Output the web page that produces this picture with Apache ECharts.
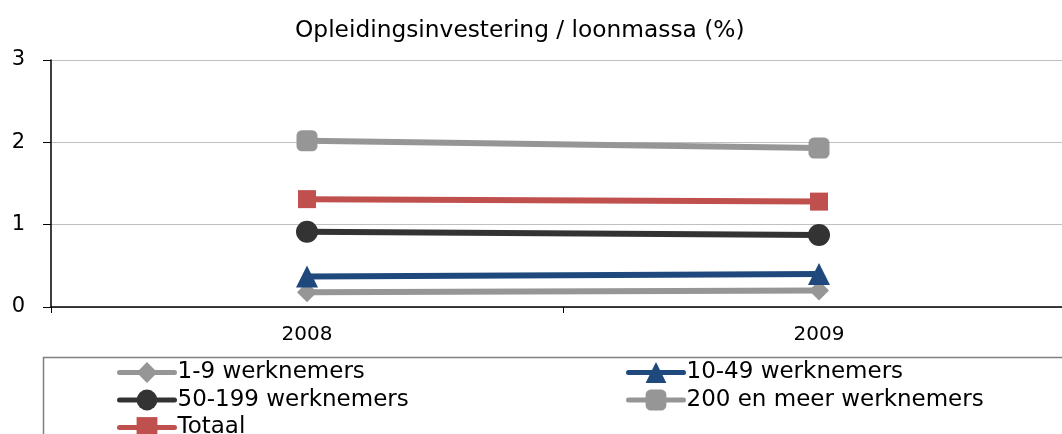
<!DOCTYPE html>
<html><head><meta charset="utf-8">
<script src="https://cdn.jsdelivr.net/npm/echarts@6/dist/echarts.min.js"></script>
<style>html,body{margin:0;padding:0;background:#fff}#c{width:1062px;height:434px}</style>
</head><body><div id="c"></div>
<script>
const categories = ['2008', '2009'];
const seriesNames = ['1-9 werknemers', '10-49 werknemers', '50-199 werknemers', '200 en meer werknemers', 'Totaal'];
const s1_9 = [0.18, 0.20];
const s10_49 = [0.37, 0.40];
const s50_199 = [0.915, 0.875];
const s200 = [2.02, 1.93];
const sTotaal = [1.31, 1.28];
const yTicks = [0, 1, 2, 3];

const FONT = '"DejaVu Sans", sans-serif';
const colors = ['#969696', '#1F497D', '#333333', '#969696', '#C0504D'];
const symbols = ['diamond', 'triangle', 'circle', 'roundRect', 'rect'];
const sizes = [20, 22, 22, 21, 18];
const datas = [s1_9, s10_49, s50_199, s200, sTotaal];

const legendCommon = {
  orient: 'vertical', top: 356, height: 100,
  itemWidth: 55, itemHeight: 26, itemGap: 4.5,
  lineStyle: {width: 5, cap: 'round'},
  textStyle: {fontFamily: FONT, fontSize: 23, lineHeight: 22, color: '#000', padding: [0, 0, 0, -2]}
};

const chart = echarts.init(document.getElementById('c'), null, {renderer: 'canvas'});
chart.setOption({
  animation: false,
  title: {
    text: 'Opleidingsinvestering / loonmassa (%)',
    left: 290, top: 14,
    textStyle: {fontFamily: FONT, fontSize: 23.3, fontWeight: 'normal', color: '#000'}
  },
  grid: {left: 51, top: 60, width: 1024, height: 247, outerBoundsMode: 'none', containLabel: false},
  xAxis: {
    type: 'category', data: categories, boundaryGap: true,
    axisLine: {lineStyle: {color: '#000', width: 1.5}},
    axisTick: {show: true, length: 6, lineStyle: {color: '#000'}},
    axisLabel: {fontFamily: FONT, fontSize: 20, color: '#000', margin: 18}
  },
  yAxis: {
    type: 'value', min: yTicks[0], max: yTicks[yTicks.length - 1], interval: 1,
    axisLine: {show: true, lineStyle: {color: '#000', width: 1.5}},
    axisTick: {show: true, length: 8, lineStyle: {color: '#000'}},
    splitLine: {lineStyle: {color: '#C0C0C0', width: 1}},
    axisLabel: {fontFamily: FONT, fontSize: 21, color: '#000', margin: 26}
  },
  legend: [
    Object.assign({left: 112, data: [seriesNames[0], seriesNames[2], seriesNames[4]]}, legendCommon),
    Object.assign({left: 621, data: [seriesNames[1], seriesNames[3]]}, legendCommon)
  ],
  graphic: [{
    type: 'rect', left: 41, top: 355, silent: true,
    shape: {width: 1040, height: 100},
    style: {fill: 'none', stroke: '#808080', lineWidth: 1.5}
  }],
  series: seriesNames.map((n, i) => ({
    name: n, type: 'line', data: datas[i],
    symbol: symbols[i], symbolSize: sizes[i],
    itemStyle: {color: colors[i]},
    lineStyle: {color: colors[i], width: 6},
    z: 2 + i
  }))
});
</script></body></html>
